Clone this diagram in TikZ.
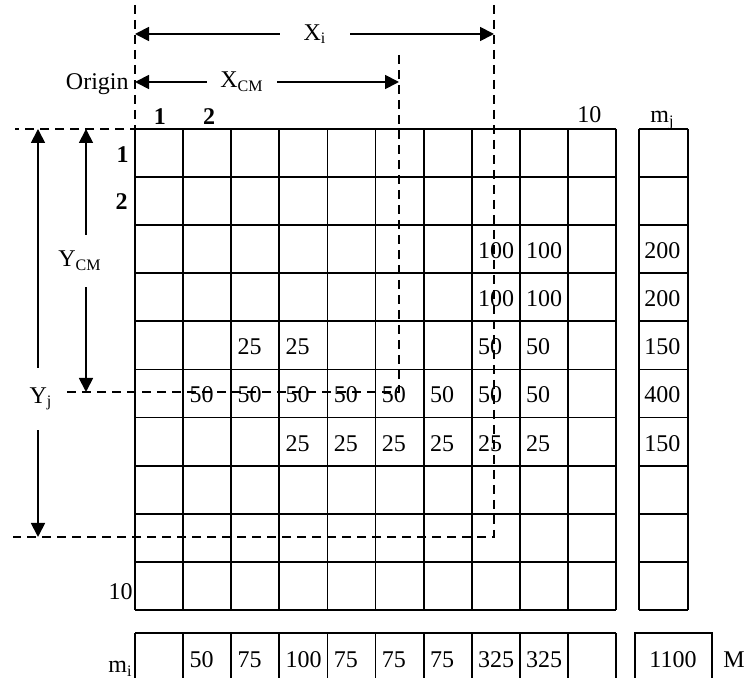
\documentclass[tikz,border=0pt]{standalone}
\usepackage{fontspec}
\setmainfont{Liberation Serif}
\usetikzlibrary{arrows.meta}

\tikzset{
  cell/.style={line width=0.9pt},
  guide/.style={line width=0.8pt, dash pattern=on 4.5pt off 3pt},
  dim/.style={line width=0.9pt, -{Triangle[length=7pt,width=7pt]}},
  val/.style={anchor=base west, inner sep=0pt},
  lab/.style={inner sep=0pt},
}

\begin{document}
\begin{tikzpicture}[x=0.5pt, y=-0.5pt, font=\fontsize{12}{14}\selectfont]
  \clip (0,0) rectangle (746,678);
  \coordinate (O) at (135,129);
  \coordinate (cm) at (399,392);
  \coordinate (pj) at (494,537);
  % grid and m_j column
  \foreach \i in {0,...,10} {
    \draw[cell] ({135+48.1*\i},129) -- ({135+48.1*\i},610);
    \draw[cell] (135,{129+48.1*\i}) -- (616,{129+48.1*\i});
    \draw[cell] (639,{129+48.1*\i}) -- (688,{129+48.1*\i});
  }
  \draw[cell] (639,129) -- (639,610);
  \draw[cell] (688,129) -- (688,610);
  % m_i row
  \draw[cell] (135,633) -- (616,633);
  \foreach \i in {0,...,10}
    \draw[cell] ({135+48.1*\i},633) -- ({135+48.1*\i},690);
  \draw[cell] (635,690) -- (635,633) -- (712,633) -- (712,690);

  % masses
  \foreach \c/\r/\v in {8/3/100, 9/3/100, 8/4/100, 9/4/100,
      3/5/25, 4/5/25, 8/5/50, 9/5/50,
      2/6/50, 3/6/50, 4/6/50, 5/6/50, 6/6/50, 7/6/50, 8/6/50, 9/6/50,
      4/7/25, 5/7/25, 6/7/25, 7/7/25, 8/7/25, 9/7/25}
    \node[val] at ({135+48.1*(\c-1)+6},{129+48.1*(\r-1)+33.5}) {\v};
  \foreach \r/\v in {3/200, 4/200, 5/150, 6/400, 7/150}
    \node[val] at (644,{129+48.1*(\r-1)+33.5}) {\v};
  \foreach \c/\v in {2/50, 3/75, 4/100, 5/75, 6/75, 7/75, 8/325, 9/325}
    \node[val] at ({135+48.1*(\c-1)+6},668) {\v};
  \node[lab, anchor=base] (tot) at (673,668) {1100};
  \node[lab, anchor=base west] (M) at (723,668) {M};

  % index labels
  \node[lab, anchor=base] (col1) at (160,125) {\bfseries 1};
  \node[lab, anchor=base] (col2) at (209,125) {\bfseries 2};
  \node[lab, anchor=base west] (col10) at (577,123) {10};
  \node[lab, anchor=base west] (mj) at (650,123) {m\textsubscript{j}};
  \node[lab, anchor=base east] (row1) at (129,163) {\bfseries 1};
  \node[lab, anchor=base east] (row2) at (128,210) {\bfseries 2};
  \node[lab, anchor=base east] (row10) at (133,600) {10};
  \node[lab, anchor=base east] (mi) at (133,673) {m\textsubscript{i}};
  \node[lab, anchor=base east] (origin) at (129,90) {Origin};

  % dimension arrows
  \node[lab, minimum width=35pt] (xi) at (315,34) {X\textsubscript{i}};
  \draw[dim] (xi.west) -- (xi.west -| O);
  \draw[dim] (xi.east) -- (xi.east -| pj);
  \node[lab, minimum width=35pt] (xcm) at (242,82) {X\textsubscript{CM}};
  \draw[dim] (xcm.west) -- (xcm.west -| O);
  \draw[dim] (xcm.east) -- (xcm.east -| cm);
  \node[lab, minimum height=26pt] (ycm) at (80,261) {Y\textsubscript{CM}};
  \draw[dim] ([xshift=3pt]ycm.north) -- ([xshift=3pt]ycm.north |- O);
  \draw[dim] ([xshift=3pt]ycm.south) -- ([xshift=3pt]ycm.south |- cm);
  \node[lab, minimum height=31pt] (yj) at (41,399) {Y\textsubscript{j}};
  \draw[dim] ([xshift=-1.5pt]yj.north) -- ([xshift=-1.5pt]yj.north |- O);
  \draw[dim] ([xshift=-1.5pt]yj.south) -- ([xshift=-1.5pt]yj.south |- pj);

  % guide lines
  \draw[guide] (135,5) -- (O) -- (15,129);
  \draw[guide] (494,5) -- (pj) -- (13,537);
  \draw[guide] (399,55) -- (cm) -- (62,392);
\end{tikzpicture}
\end{document}
